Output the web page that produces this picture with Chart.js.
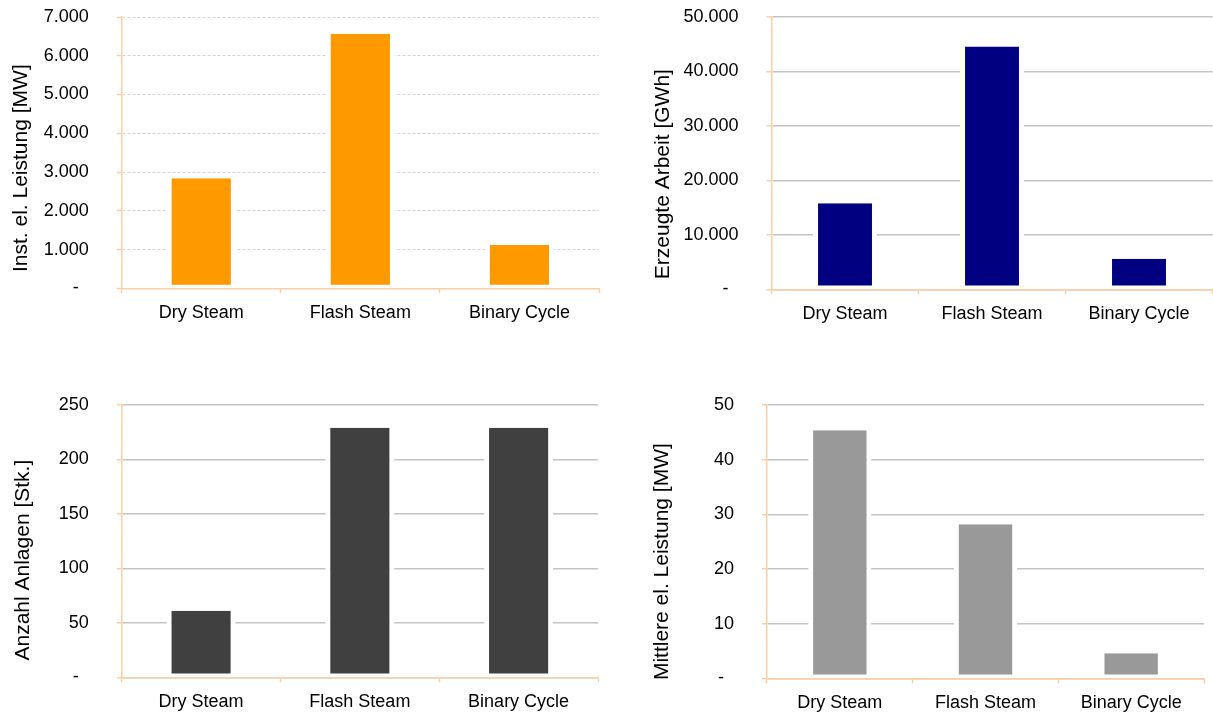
<!DOCTYPE html>
<html lang="de">
<head>
<meta charset="utf-8">
<title>Geothermie-Kraftwerke nach Technologie</title>
<script src="https://cdn.jsdelivr.net/npm/chart.js@4/dist/chart.umd.min.js"></script>
<style>
    html, body { margin: 0; padding: 0; background: #fff; }
    #wrap { position: relative; width: 1213px; height: 715px; overflow: hidden; }
    #wrap canvas { position: absolute; }
</style>
</head>
<body>
<div id="wrap">
    <canvas id="c-leistung" width="606" height="345" style="left:0;top:0"></canvas>
    <canvas id="c-arbeit" width="607" height="345" style="left:606px;top:0"></canvas>
    <canvas id="c-anzahl" width="606" height="358" style="left:0;top:357px"></canvas>
    <canvas id="c-mittel" width="607" height="358" style="left:606px;top:357px"></canvas>
</div>
<script>
(() => {
    // Kategorien und Werte je Diagramm
    const categories = ['Dry Steam', 'Flash Steam', 'Binary Cycle'];
    const leistungMW = [2840, 6570, 1115];          // Inst. el. Leistung [MW]
    const arbeitGWh = [15780, 44590, 5610];         // Erzeugte Arbeit [GWh]
    const anzahlAnlagen = [61, 229, 229];           // Anzahl Anlagen [Stk.]
    const mittlereLeistungMW = [45.4, 28.2, 4.6];   // Mittlere el. Leistung [MW]

    // Achsenbereiche
    const leistungTicks = { max: 7000, step: 1000 };
    const arbeitTicks = { max: 50000, step: 10000 };
    const anzahlTicks = { max: 250, step: 50 };
    const mittelTicks = { max: 50, step: 10 };

    const FONT = '"Liberation Sans", Arial, Helvetica, sans-serif';
    const AXIS_COLOR = '#fcd0a4';
    const Y_AXIS_WIDTH = 100;
    const X_AXIS_HEIGHT = 36;

    Chart.defaults.font.family = FONT;
    Chart.defaults.color = '#000';

    // Tausenderpunkt, Null als Strich (Buchhaltungsformat)
    function formatTick(value) {
        if (value === 0) return '-  ';
        return String(Math.round(value)).replace(/\B(?=(\d{3})+(?!\d))/g, '.');
    }

    // gedrehter Achsentitel links neben der Werteachse
    const yTitlePlugin = {
        id: 'yTitle',
        afterDraw(chart, args, opts) {
            const { ctx, chartArea } = chart;
            const cy = (chartArea.top + chartArea.bottom) / 2 + opts.dy;
            ctx.save();
            ctx.translate(opts.x, cy);
            ctx.rotate(-Math.PI / 2);
            ctx.font = `21px ${FONT}`;
            ctx.fillStyle = '#000';
            ctx.textAlign = 'center';
            ctx.textBaseline = 'middle';
            ctx.fillText(opts.text, 0, 0);
            ctx.restore();
        }
    };

    function makeChart(id, values, color, title, ticks, gridStyle, layout) {
        const ctx = document.getElementById(id).getContext('2d');
        return new Chart(ctx, {
            type: 'bar',
            data: {
                labels: categories,
                datasets: [{
                    data: values,
                    backgroundColor: color,
                    borderColor: '#fff',
                    borderWidth: { left: 5, right: 5, top: 0, bottom: 3 },
                    borderSkipped: false,
                    barPercentage: 0.435,
                    categoryPercentage: 1
                }]
            },
            options: {
                responsive: false,
                animation: false,
                devicePixelRatio: 1,
                layout: { padding: layout.padding },
                plugins: {
                    legend: { display: false },
                    tooltip: { enabled: false },
                    yTitle: { text: title, x: layout.titleX, dy: layout.titleDy }
                },
                scales: {
                    x: {
                        grid: {
                            drawOnChartArea: false,
                            drawTicks: true,
                            tickLength: 5,
                            tickColor: AXIS_COLOR,
                            tickWidth: 1.5
                        },
                        border: { color: AXIS_COLOR, width: 1.5, z: 1 },
                        ticks: { font: { size: 18 }, color: '#000', padding: 9, maxRotation: 0 },
                        afterFit: (scale) => { scale.height = X_AXIS_HEIGHT; }
                    },
                    y: {
                        min: 0,
                        max: ticks.max,
                        ticks: {
                            stepSize: ticks.step,
                            font: { size: 18 },
                            color: '#000',
                            padding: 28,
                            callback: formatTick
                        },
                        grid: {
                            color: gridStyle.color,
                            lineWidth: gridStyle.width,
                            tickColor: AXIS_COLOR,
                            tickLength: 5,
                            tickWidth: 1.5,
                            tickBorderDash: []
                        },
                        border: { color: AXIS_COLOR, width: 1.5, z: 1, dash: gridStyle.dash },
                        afterFit: (scale) => {
                            // feste Achsenbreite, Beschriftung soll die Fläche nicht verschieben
                            scale.width = Y_AXIS_WIDTH;
                            scale.paddingTop = 0;
                            scale.paddingBottom = 0;
                        }
                    }
                }
            },
            plugins: [yTitlePlugin]
        });
    }

    const dashedGrid = { color: '#d4d4d4', width: 1, dash: [3, 2] };
    const solidGrid = { color: '#c4c4c4', width: 1.5, dash: [] };

    // untere Abstände: Canvas-Höhe - Unterkante Diagrammfläche - Rubrikenachse
    makeChart('c-leistung', leistungMW, '#ff9900', 'Inst. el. Leistung [MW]', leistungTicks, dashedGrid,
        { padding: { left: 121.7 - Y_AXIS_WIDTH, top: 17, right: 7, bottom: 345 - 288.3 - X_AXIS_HEIGHT }, titleX: 21, titleDy: 15.5 });
    makeChart('c-arbeit', arbeitGWh, '#000080', 'Erzeugte Arbeit [GWh]', arbeitTicks, solidGrid,
        { padding: { left: 165.5 - Y_AXIS_WIDTH, top: 17, right: 0.5, bottom: 345 - 289.3 - X_AXIS_HEIGHT }, titleX: 57, titleDy: 21 });
    makeChart('c-anzahl', anzahlAnlagen, '#404040', 'Anzahl Anlagen [Stk.]', anzahlTicks, solidGrid,
        { padding: { left: 121.7 - Y_AXIS_WIDTH, top: 48, right: 8, bottom: 358 - 320.3 - X_AXIS_HEIGHT }, titleX: 23.5, titleDy: 19 });
    makeChart('c-mittel', mittlereLeistungMW, '#999999', 'Mittlere el. Leistung [MW]', mittelTicks, solidGrid,
        { padding: { left: 161 - Y_AXIS_WIDTH, top: 48, right: 9, bottom: 358 - 321.3 - X_AXIS_HEIGHT }, titleX: 56, titleDy: 20 });
})();
</script>
</body>
</html>
